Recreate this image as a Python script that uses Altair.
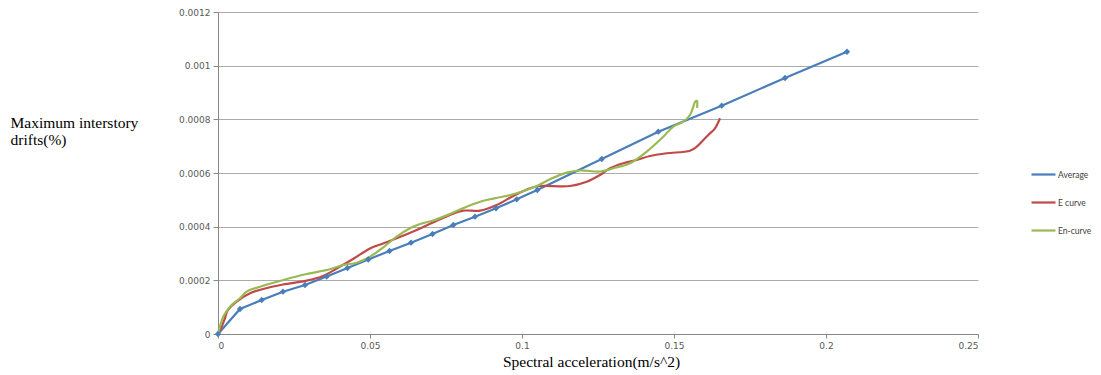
import altair as alt
import pandas as pd

# ---- data ----
series_names = ["Average", "E curve", "En-curve"]
series_colors = ["#4A7EBB", "#BE4B48", "#98B954"]

avg_x = [0, 0.00724, 0.01438, 0.02138, 0.02862, 0.03576, 0.0426, 0.04944, 0.05641,
         0.06349, 0.07056, 0.0774, 0.08454, 0.09145, 0.09826, 0.10503, 0.12622,
         0.14484, 0.16569, 0.18651, 0.2069]
avg_y = [0, 0.0000932, 0.0001267, 0.0001577, 0.0001826, 0.0002143, 0.000246, 0.0002777,
         0.0003094, 0.0003403, 0.0003727, 0.0004063, 0.0004372, 0.0004685, 0.000502,
         0.0005367, 0.0006522, 0.000754, 0.0008509, 0.0009541, 0.001052]

e_x = [0, 0.00122, 0.0023, 0.00329, 0.00615, 0.01053, 0.0148, 0.02138, 0.02918, 0.03454,
       0.03905, 0.04441, 0.05, 0.05428, 0.05878, 0.06536, 0.07072, 0.07632, 0.08069,
       0.08618, 0.09168, 0.09714, 0.10263, 0.10592, 0.11579, 0.12128, 0.12566, 0.12895,
       0.13332, 0.13773, 0.14211, 0.1476, 0.15526, 0.15747, 0.15964, 0.16128, 0.16349,
       0.16513]
e_y = [0, 0.0000272, 0.0000596, 0.0000894, 0.0001204, 0.0001517, 0.0001677, 0.0001845,
       0.0001987, 0.0002162, 0.0002441, 0.0002795, 0.0003187, 0.0003373, 0.0003567,
       0.0003876, 0.0004156, 0.0004435, 0.0004595, 0.0004595, 0.0004808, 0.0005143,
       0.000543, 0.0005516, 0.0005516, 0.0005676, 0.0005926, 0.0006176, 0.0006362,
       0.0006485, 0.0006634, 0.0006735, 0.0006832, 0.0006981, 0.000723, 0.0007417,
       0.0007666, 0.0008039]

en_x = [0, 0.00174, 0.00395, 0.00724, 0.00944, 0.01382, 0.02148, 0.02918, 0.03684,
        0.04122, 0.04563, 0.05, 0.05438, 0.05878, 0.06316, 0.06645, 0.07082, 0.07632,
        0.08181, 0.08727, 0.09276, 0.09826, 0.10484, 0.10921, 0.1147, 0.11908, 0.12566,
        0.13003, 0.13553, 0.14102, 0.14648, 0.14977, 0.15306, 0.15526, 0.15635, 0.1569,
        0.15757, 0.15757]
en_y = [0, 0.0000645, 0.0001017, 0.0001331, 0.0001577, 0.0001763, 0.0002013, 0.0002236,
        0.0002411, 0.0002572, 0.0002657, 0.0002881, 0.0003231, 0.0003626, 0.000394,
        0.00041, 0.000423, 0.0004472, 0.0004745, 0.0004968, 0.0005095, 0.0005244,
        0.0005516, 0.0005766, 0.0006012, 0.0006094, 0.0006056, 0.0006176, 0.0006362,
        0.0006794, 0.0007353, 0.0007726, 0.0007912, 0.0008162, 0.0008471, 0.0008647,
        0.0008684, 0.0008423]

x_ticks = [0, 0.05, 0.1, 0.15, 0.2, 0.25]
y_ticks = [0, 0.0002, 0.0004, 0.0006, 0.0008, 0.001, 0.0012]

rows = []
for name, xs, ys in [("Average", avg_x, avg_y), ("E curve", e_x, e_y), ("En-curve", en_x, en_y)]:
    for i, (xv, yv) in enumerate(zip(xs, ys)):
        rows.append({"series": name, "x": xv, "y": yv, "order": i})
df = pd.DataFrame(rows)

color = alt.Color(
    "series:N",
    scale=alt.Scale(domain=series_names, range=series_colors),
    legend=alt.Legend(
        title=None, orient="none", legendX=812, legendY=149, direction="vertical",
        symbolType="stroke", symbolSize=576, symbolStrokeWidth=2.2,
        labelFont="Lato", labelFontSize=8.5, labelColor="#404040",
        labelOffset=1, rowPadding=10,
    ),
)

x_enc = alt.X(
    "x:Q",
    scale=alt.Scale(domain=[0, 0.25], nice=False, zero=True),
    axis=alt.Axis(
        values=x_ticks, format=".2~g", grid=False,
        title="Spectral acceleration(m/s^2)",
        titleFont="Liberation Serif", titleFontSize=15.5, titleFontWeight="normal",
        titleColor="#000000", titleX=373, titleY=32, titleBaseline="alphabetic",
        titleAlign="center", titlePadding=0,
        labelFont="DejaVu Sans", labelFontSize=9, labelColor="#595959",
        domainColor="#888888", tickColor="#888888", tickSize=4, labelPadding=3,
    ),
)
y_enc = alt.Y(
    "y:Q",
    scale=alt.Scale(domain=[0, 0.0012], nice=False),
    axis=alt.Axis(
        values=y_ticks, format=".2~g", grid=True, gridColor="#ABABAB", gridWidth=1,
        title=["Maximum interstory", "drifts(%)"],
        titleAngle=0, titleAlign="left", titleBaseline="alphabetic",
        titleX=-208, titleY=115, titleLineHeight=17,
        titleFont="Liberation Serif", titleFontSize=15.5, titleFontWeight="normal",
        titleColor="#000000",
        labelFont="DejaVu Sans", labelFontSize=9, labelColor="#595959",
        domainColor="#888888", tickColor="#888888", tickSize=5, labelPadding=3,
    ),
)

base = alt.Chart(df)
avg_line = base.transform_filter(alt.datum.series == "Average").mark_line(
    strokeWidth=2.2, interpolate="linear"
).encode(x=x_enc, y=y_enc, color=color, order="order:Q")
avg_pts = base.transform_filter(alt.datum.series == "Average").mark_point(
    shape="diamond", filled=True, size=40, opacity=1
).encode(x=x_enc, y=y_enc, color=color)
curves = base.transform_filter(alt.datum.series != "Average").mark_line(
    strokeWidth=2.2, interpolate="catmull-rom"
).encode(x=x_enc, y=y_enc, color=color, order="order:Q", detail="series:N")

chart = alt.layer(avg_line, curves, avg_pts).properties(
    width=760, height=322,
    autosize=alt.AutoSizeParams(type="none"),
    padding={"left": 210, "top": 4, "right": 115, "bottom": 37},
    background="white",
).configure_view(stroke=None)

chart.save("out.html", embed_options={"renderer": "svg", "actions": False})
